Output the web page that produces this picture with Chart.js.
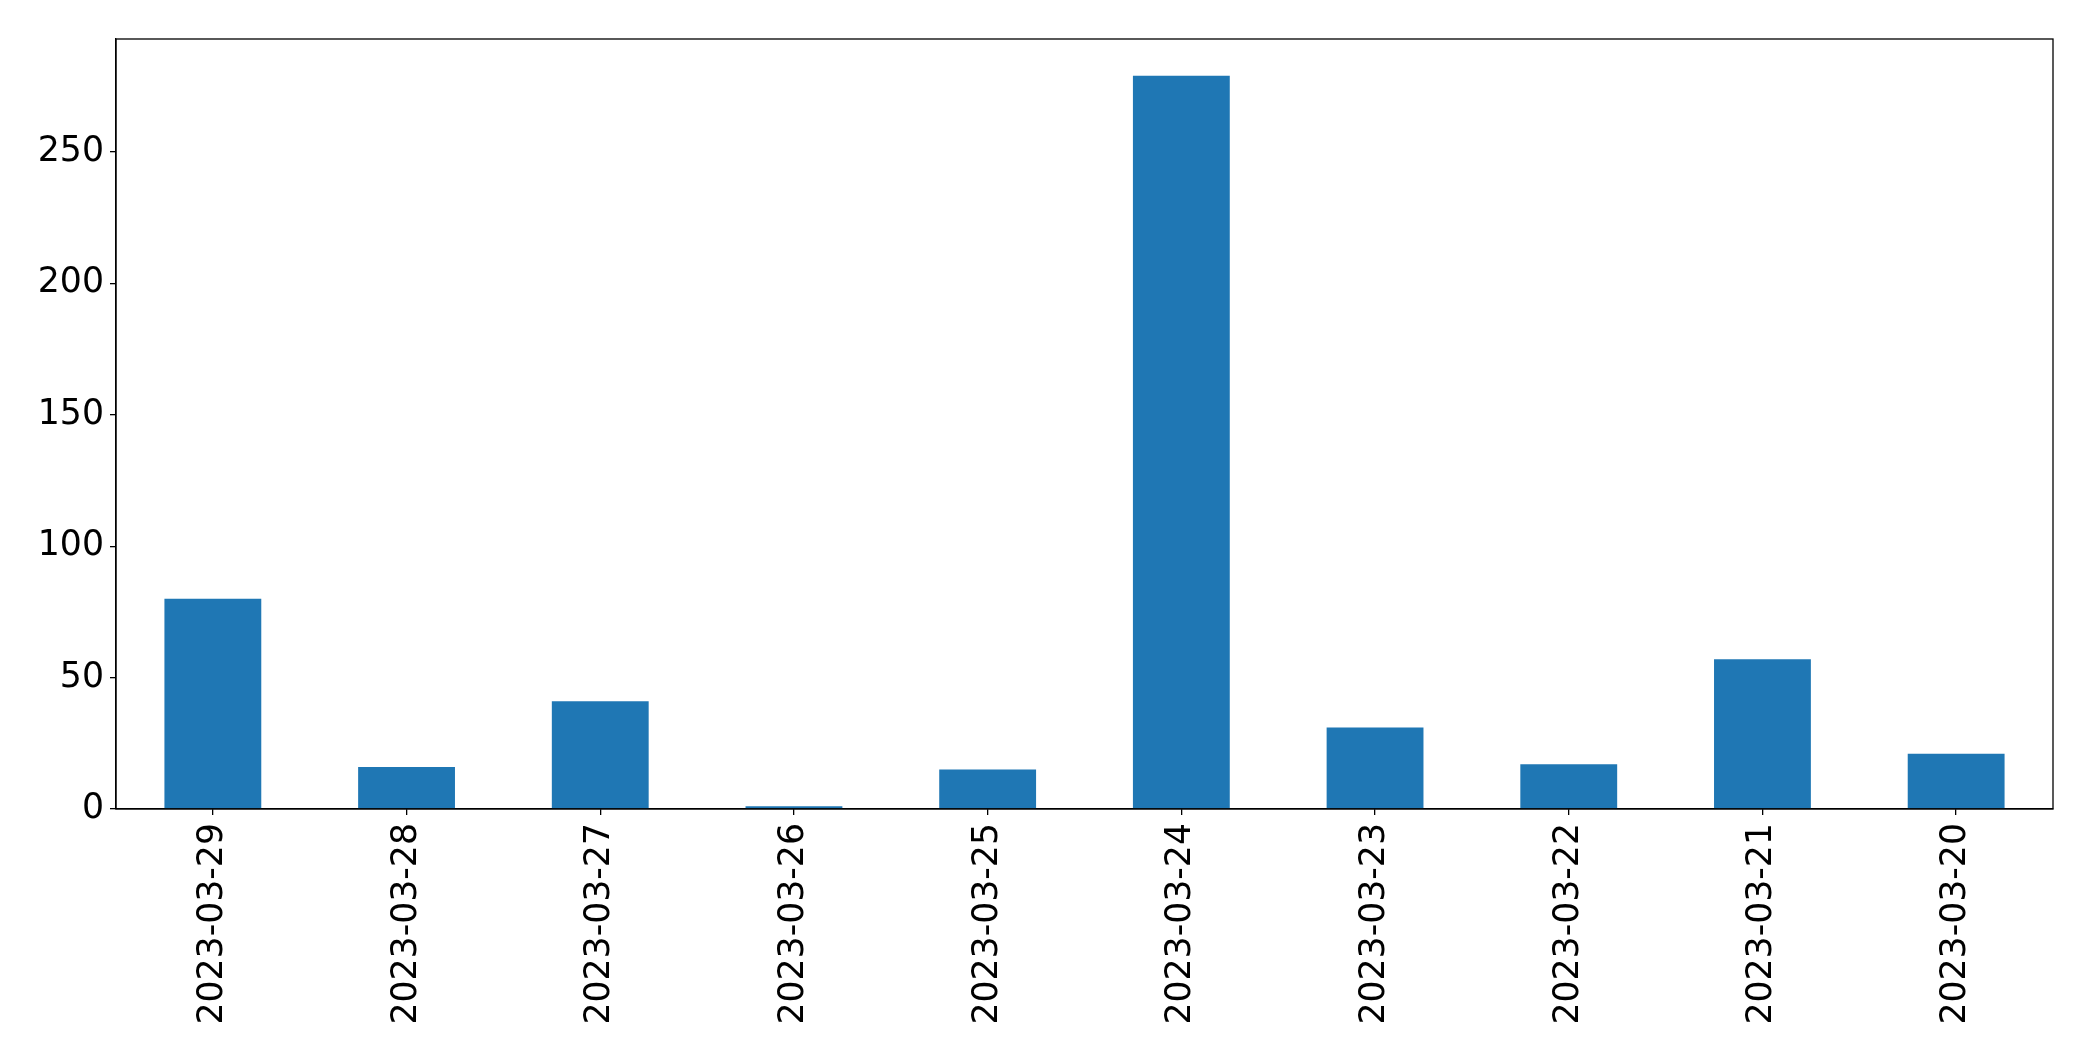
<!DOCTYPE html>
<html lang="en">
<head>
  <meta charset="UTF-8">
  <title>Bars per day</title>
  <script src="https://cdn.jsdelivr.net/npm/chart.js"></script>
  <style>
    html, body { margin: 0; padding: 0; background: #fff; }
    #wrap { width: 2093px; height: 1061px; }
  </style>
</head>
<body>
  <div id="wrap"><canvas id="dayChart"></canvas></div>

  <script>
    // data
    const days = ["2023-03-29", "2023-03-28", "2023-03-27", "2023-03-26", "2023-03-25",
                  "2023-03-24", "2023-03-23", "2023-03-22", "2023-03-21", "2023-03-20"];
    const counts = [80, 16, 41, 1, 15, 279, 31, 17, 57, 21];
    const yTicks = [0, 50, 100, 150, 200, 250];

    // frame round the plot area, like matplotlib's spines
    const frame = {
      id: "frame",
      afterDraw(chart) {
        const a = chart.chartArea, ctx = chart.ctx;
        ctx.save();
        ctx.strokeStyle = "#000";
        ctx.lineWidth = 1.3;
        ctx.strokeRect(a.left, a.top, a.right - a.left, a.bottom - a.top);
        ctx.restore();
      }
    };

    Chart.defaults.font.family = "'DejaVu Sans', sans-serif";
    Chart.defaults.font.size = 34.7;
    Chart.defaults.color = "#000";

    new Chart(document.getElementById("dayChart"), {
      type: "bar",
      data: {
        labels: days,
        datasets: [{
          data: counts,
          backgroundColor: "#1f77b4",
          barPercentage: 0.5,
          categoryPercentage: 1.0
        }]
      },
      options: {
        responsive: true,
        maintainAspectRatio: false,
        animation: false,
        layout: { padding: { top: 39, right: 40, left: 0, bottom: 0 } },
        plugins: { legend: { display: false }, tooltip: { enabled: false } },
        scales: {
          x: {
            grid: { offset: false, drawOnChartArea: false, drawTicks: true, tickLength: 6, color: "#000", lineWidth: 1.3 },
            border: { color: "#000", width: 1.3 },
            ticks: { minRotation: 90, maxRotation: 90, padding: 8, autoSkip: false },
            afterFit(scale) { scale.height = 252; }
          },
          y: {
            min: 0,
            max: 293,
            afterBuildTicks(scale) { scale.ticks = yTicks.map(v => ({ value: v })); },
            grid: { drawOnChartArea: false, drawTicks: true, tickLength: 6, color: "#000", lineWidth: 1.3 },
            border: { color: "#000", width: 1.3 },
            ticks: { padding: 6 },
            afterFit(scale) { scale.width = 116; }
          }
        }
      },
      plugins: [frame]
    });
  </script>
</body>
</html>
